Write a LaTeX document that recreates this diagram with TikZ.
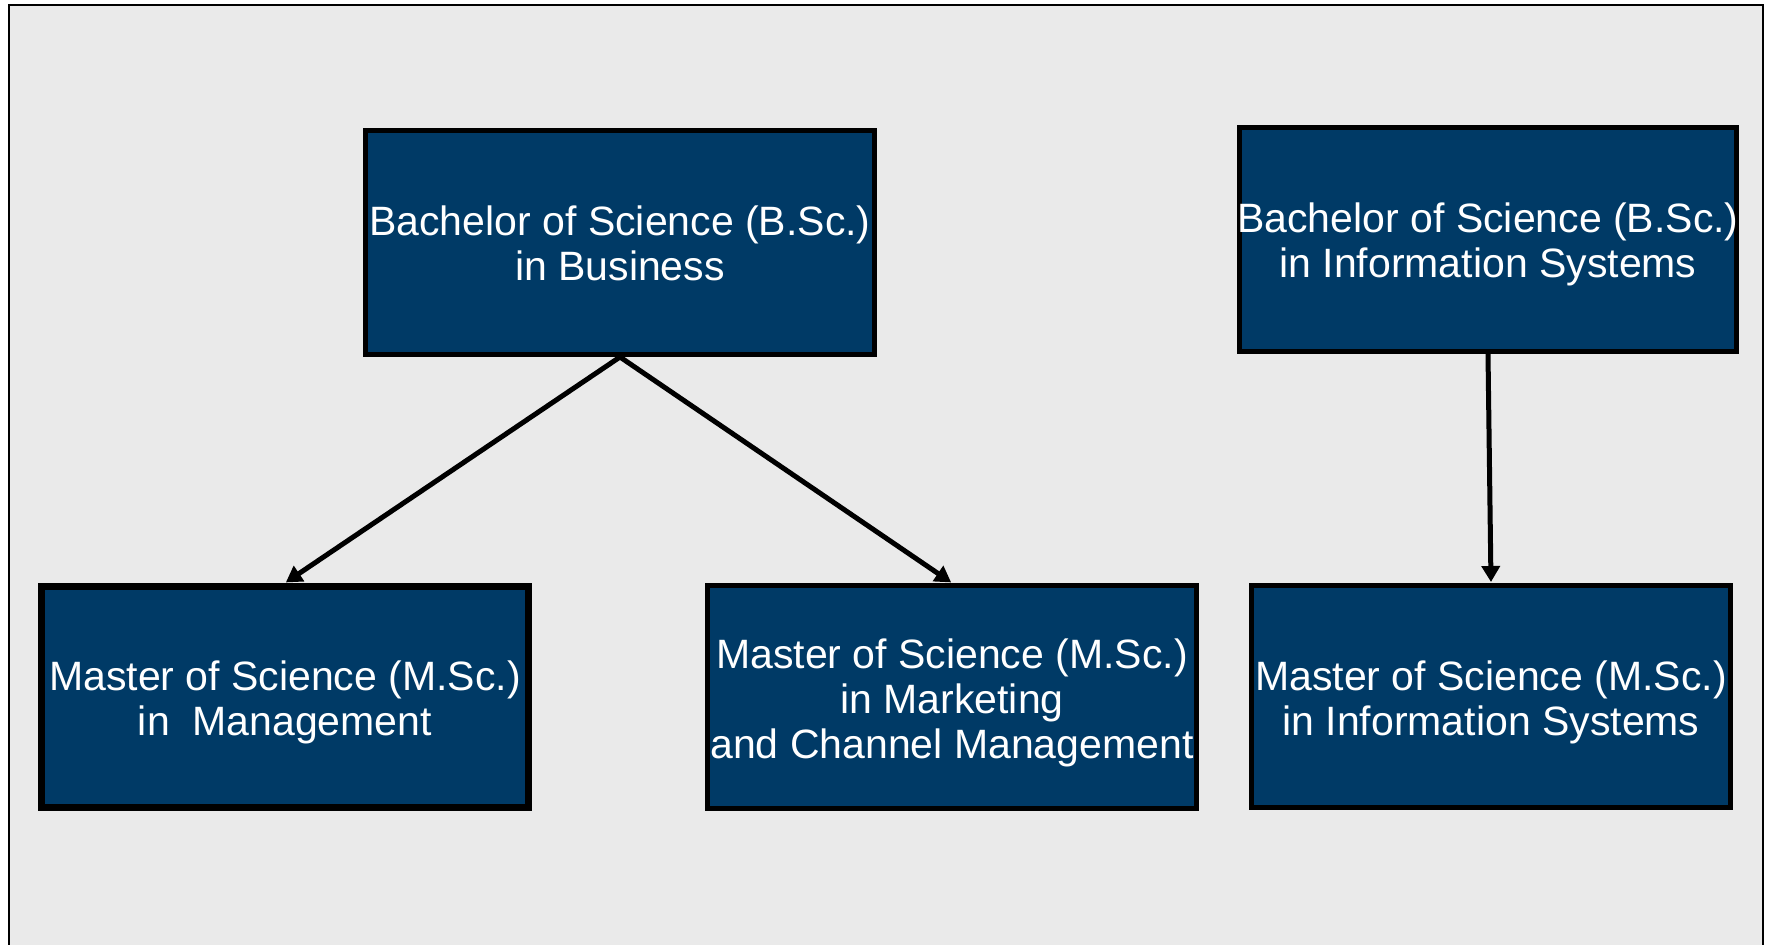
\documentclass[tikz,border=0pt]{standalone}
\usepackage{fontspec}
\setmainfont{Liberation Sans}
\usetikzlibrary{arrows.meta}
\definecolor{boxblue}{RGB}{0,58,102}
\definecolor{bggray}{RGB}{234,234,234}
\begin{document}
\begin{tikzpicture}[x=1pt,y=-1pt,
  degbox/.style={draw=black,fill=boxblue,line width=5pt,rectangle,inner sep=0pt},
  degtext/.style={align=center,text=white,inner sep=0pt,font=\fontsize{41}{45}\selectfont},
  link/.style={line width=5pt,-{Triangle[length=16pt,width=18pt]},shorten >=1pt}]
\useasboundingbox (0,0) rectangle (1767,945);
\fill[white] (0,0) rectangle (1767,945);
\fill[bggray] (9,5) rectangle (1763,945);
\draw[line width=2pt] (9,945) -- (9,5) -- (1763,5) -- (1763,945);

\node[degbox,minimum width=509pt,minimum height=224pt,
  label={[degtext,yshift=-1pt]center:{Bachelor of Science (B.Sc.)\\in Business}}] (bsb) at (620,242.5) {};
\node[degbox,minimum width=497pt,minimum height=224pt,
  label={[degtext,yshift=-4.5pt]center:{Bachelor of Science (B.Sc.)\\in Information Systems}}] (bsi) at (1488,239.5) {};
\node[degbox,line width=7pt,minimum width=487pt,minimum height=221pt,
  label={[degtext,yshift=-5.5pt]center:{Master of Science (M.Sc.)\\in \ Management}}] (mm) at (285,697) {};
\node[degbox,minimum width=489pt,minimum height=223pt,
  label={[degtext,yshift=-6pt]center:{Master of Science (M.Sc.)\\in Marketing\\and Channel Management}}] (mk) at (952,697) {};
\node[degbox,minimum width=479pt,minimum height=222pt,
  label={[degtext,yshift=-5.5pt]center:{Master of Science (M.Sc.)\\in Information Systems}}] (mi) at (1491,696.5) {};

\draw[link] (bsb.south) -- (mm.north);
\draw[link] (bsb.south) -- (mk.north);
\draw[link] (bsi.south) -- (mi.north);
\end{tikzpicture}
\end{document}
